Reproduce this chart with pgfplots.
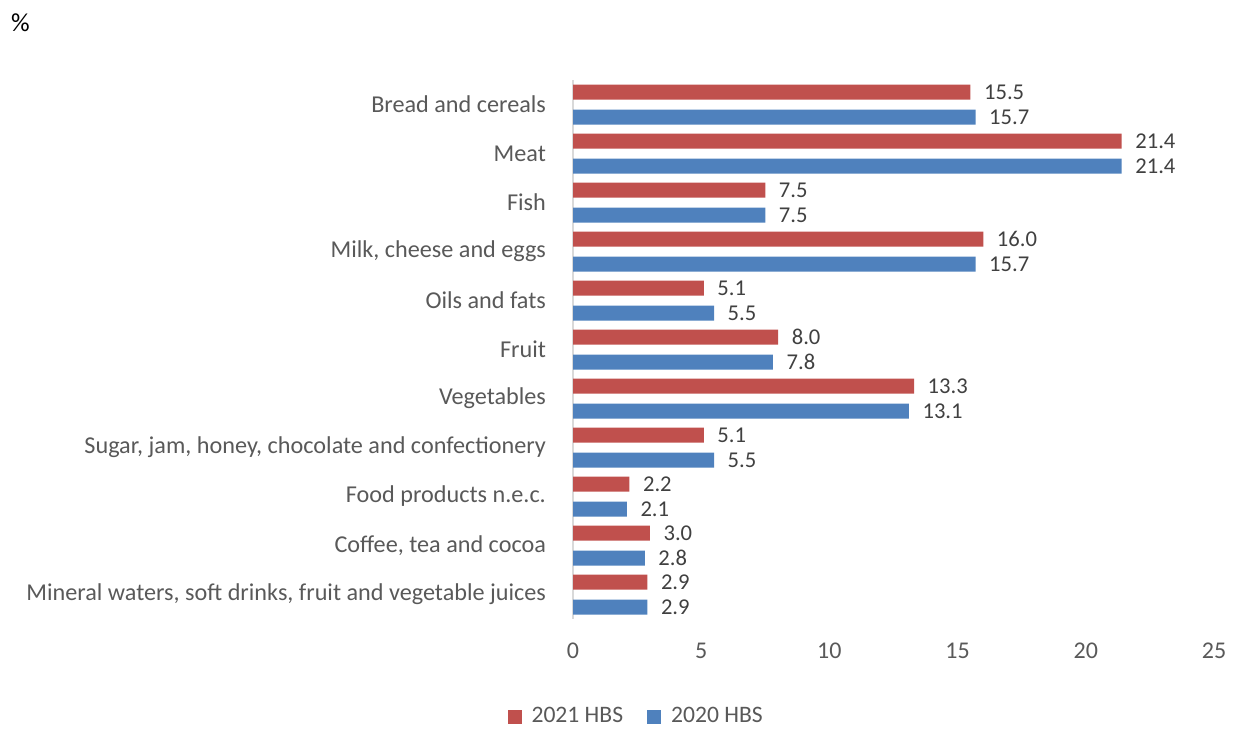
\documentclass[border=0pt]{standalone}
\usepackage{pgfplots}
\pgfplotsset{compat=1.18}
\usepackage{pgfplotstable}
\usepackage{fontspec}
\setmainfont{Carlito}
\definecolor{cred}{HTML}{C0504D}
\definecolor{cblue}{HTML}{4F81BD}
\definecolor{lblgray}{HTML}{595959}
\definecolor{valgray}{HTML}{404040}
\definecolor{axgray}{HTML}{D9D9D9}
\pgfplotstableread{
y a b
0 15.5 15.7
1 21.4 21.4
2 7.5 7.5
3 16.0 15.7
4 5.1 5.5
5 8.0 7.8
6 13.3 13.1
7 5.1 5.5
8 2.2 2.1
9 3.0 2.8
10 2.9 2.9
}\data
\begin{document}
\begin{tikzpicture}[font=\fontsize{11}{13}\selectfont]
\useasboundingbox (0,0) rectangle (620pt,364pt);
\node[anchor=west, text=black, font=\fontsize{13}{15}\selectfont] at (2pt,352.5pt) {\%};
\begin{axis}[
  at={(286.5pt,54.5pt)}, anchor=south west,
  scale only axis, width=320.5pt, height=269.5pt,
  xbar, bar width=7.5pt,
  xmin=0, xmax=25, xtick={0,5,...,25},
  ymin=-0.5, ymax=10.5, y dir=reverse,
  ytick={0,...,10},
  yticklabels={Bread and cereals, Meat, Fish, {Milk, cheese and eggs}, Oils and fats, Fruit, Vegetables, {Sugar, jam, honey, chocolate and confectionery}, Food products n.e.c., {Coffee, tea and cocoa}, {Mineral waters, soft drinks, fruit and vegetable juices}},
  axis lines*=left,
  x axis line style={draw=none},
  y axis line style={draw=axgray, line width=1pt},
  major tick length=0pt,
  xticklabel style={text=lblgray, font=\fontsize{12}{14}\selectfont, yshift=-8.3pt},
  yticklabel style={text=lblgray, font=\fontsize{12.1}{14}\selectfont, xshift=-10pt},
  /pgf/number format/assume math mode=true,
  nodes near coords={\pgfmathprintnumber[fixed,fixed zerofill,precision=1,assume math mode=true]{\pgfplotspointmeta}},
  nodes near coords style={anchor=west, xshift=3.3pt, text=valgray, font=\fontsize{11.3}{13}\selectfont},
  legend columns=2,
  legend style={draw=none, at={(0.1,-0.1815)}, anchor=center, font=\fontsize{11.8}{14}\selectfont, text=lblgray,
    /tikz/every even column/.append style={column sep=10pt}},
  legend image code/.code={\fill[#1] (0pt,-3.5pt) rectangle (7pt,3.5pt); \path (10pt,0pt);},
]
\addplot[fill=cred, draw=none, bar shift=6.25pt] table[x=a, y=y] {\data};
\addplot[fill=cblue, draw=none, bar shift=-6.25pt] table[x=b, y=y] {\data};
\legend{2021 HBS, 2020 HBS}
\end{axis}
\end{tikzpicture}
\end{document}
